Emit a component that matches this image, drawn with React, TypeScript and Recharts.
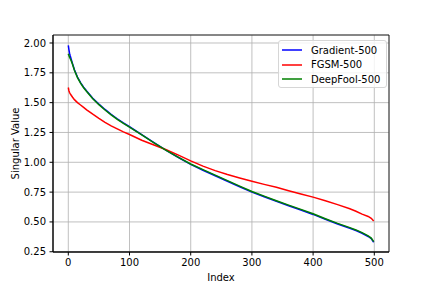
import {
  LineChart,
  Line,
  XAxis,
  YAxis,
  CartesianGrid,
  ReferenceArea,
} from "recharts";

// sampled indices (x) of the singular value curves
const indices = [
  0, 1, 2, 3, 5, 7, 10, 15, 20, 25, 30, 40, 50, 60, 70, 80, 90, 100, 120, 140,
  160, 180, 200, 220, 240, 260, 280, 300, 320, 340, 360, 380, 400, 420, 440,
  460, 470, 480, 490, 495, 499,
];

const gradient500 = [
  1.98, 1.945, 1.915, 1.895, 1.86, 1.825, 1.775, 1.715, 1.668, 1.63, 1.598,
  1.537, 1.488, 1.443, 1.402, 1.365, 1.33, 1.298, 1.232, 1.165, 1.1, 1.04,
  0.982, 0.933, 0.887, 0.841, 0.795, 0.75, 0.711, 0.673, 0.636, 0.6, 0.563,
  0.522, 0.483, 0.447, 0.428, 0.405, 0.378, 0.36, 0.33,
];

const fgsm500 = [
  1.627, 1.6, 1.585, 1.575, 1.56, 1.545, 1.525, 1.5, 1.48, 1.46, 1.44, 1.403,
  1.368, 1.335, 1.305, 1.28, 1.255, 1.233, 1.185, 1.145, 1.105, 1.06, 1.012,
  0.968, 0.93, 0.897, 0.868, 0.841, 0.815, 0.79, 0.762, 0.735, 0.708, 0.677,
  0.645, 0.61, 0.59, 0.565, 0.546, 0.53, 0.507,
];

const deepFool500 = [
  1.91, 1.895, 1.88, 1.87, 1.848, 1.82, 1.772, 1.71, 1.663, 1.625, 1.593,
  1.532, 1.483, 1.438, 1.397, 1.36, 1.326, 1.294, 1.229, 1.163, 1.1, 1.042,
  0.986, 0.938, 0.892, 0.846, 0.8, 0.755, 0.716, 0.678, 0.641, 0.605, 0.568,
  0.527, 0.488, 0.452, 0.433, 0.41, 0.383, 0.365, 0.335,
];

const xTicks = [0, 100, 200, 300, 400, 500];
const yTicks = [0.25, 0.5, 0.75, 1.0, 1.25, 1.5, 1.75, 2.0];

const series = [
  { key: "gradient", name: "Gradient-500", color: "#0000ff" },
  { key: "fgsm", name: "FGSM-500", color: "#ff0000" },
  { key: "deepfool", name: "DeepFool-500", color: "#008000" },
];

const data = indices.map((i, k) => ({
  index: i,
  gradient: gradient500[k],
  fgsm: fgsm500[k],
  deepfool: deepFool500[k],
}));

const FONT = "'DejaVu Sans', sans-serif";
const X_DOMAIN = [-25, 524];
const Y_DOMAIN = [0.248, 2.067];

const YLabel = (props: any) => {
  const { x, y, height } = props.viewBox;
  const cx = x + 15;
  const cy = y + height / 2;
  return (
    <text
      x={cx}
      y={cy}
      transform={`rotate(-90 ${cx} ${cy})`}
      textAnchor="middle"
      dominantBaseline="central"
      fontFamily={FONT}
      fontSize={10}
      fill="#000"
    >
      Singular Value
    </text>
  );
};

const XLabel = (props: any) => {
  const { x, y, width } = props.viewBox;
  return (
    <text
      x={x + width / 2}
      y={y + 25}
      textAnchor="middle"
      dominantBaseline="central"
      fontFamily={FONT}
      fontSize={10}
      fill="#000"
    >
      Index
    </text>
  );
};

const LegendBox = () => (
  <div
    style={{
      position: "absolute",
      left: 278,
      top: 40,
      width: 109,
      height: 48,
      boxSizing: "border-box",
      border: "1px solid #d6d6d6",
      borderRadius: 3,
      background: "rgba(255,255,255,0.8)",
      fontFamily: FONT,
      fontSize: 10,
      color: "#000",
    }}
  >
    {series.map((s, k) => (
      <div
        key={s.key}
        style={{
          position: "absolute",
          left: 0,
          top: 2 + k * 14.7,
          height: 14,
          display: "flex",
          alignItems: "center",
          whiteSpace: "nowrap",
        }}
      >
        <svg width={23} height={14} style={{ marginLeft: 3 }}>
          <line x1={0} y1={7} x2={20} y2={7} stroke={s.color} strokeWidth={1.5} />
        </svg>
        <span style={{ marginLeft: 6 }}>{s.name}</span>
      </div>
    ))}
  </div>
);

export default function App() {
  return (
    <div
      style={{
        position: "absolute",
        left: 0,
        top: 0,
        width: 432,
        height: 288,
        background: "#fff",
      }}
    >
      <LineChart
        width={432}
        height={288}
        data={data}
        margin={{ top: 35, right: 43, bottom: 0, left: 0 }}
      >
        <CartesianGrid stroke="#b0b0b0" strokeWidth={0.8} />
        <XAxis
          dataKey="index"
          type="number"
          domain={X_DOMAIN}
          ticks={xTicks}
          allowDataOverflow
          height={36}
          tickSize={3.5}
          tickMargin={3.5}
          stroke="#000"
          tick={{ fontSize: 10, fontFamily: FONT, fill: "#000" }}
          label={<XLabel />}
        />
        <YAxis
          type="number"
          domain={Y_DOMAIN}
          ticks={yTicks}
          allowDataOverflow
          width={53}
          tickSize={3.5}
          tickMargin={3.5}
          stroke="#000"
          tickFormatter={(v: number) => v.toFixed(2)}
          tick={{ fontSize: 10, fontFamily: FONT, fill: "#000" }}
          label={<YLabel />}
        />
        {series.map((s) => (
          <Line
            key={s.key}
            type="linear"
            dataKey={s.key}
            name={s.name}
            stroke={s.color}
            strokeWidth={1.5}
            dot={false}
            isAnimationActive={false}
          />
        ))}
        <ReferenceArea
          x1={X_DOMAIN[0]}
          x2={X_DOMAIN[1]}
          y1={Y_DOMAIN[0]}
          y2={Y_DOMAIN[1]}
          fill="none"
          stroke="#000"
          strokeWidth={0.8}
          ifOverflow="visible"
        />
      </LineChart>
      <LegendBox />
    </div>
  );
}
